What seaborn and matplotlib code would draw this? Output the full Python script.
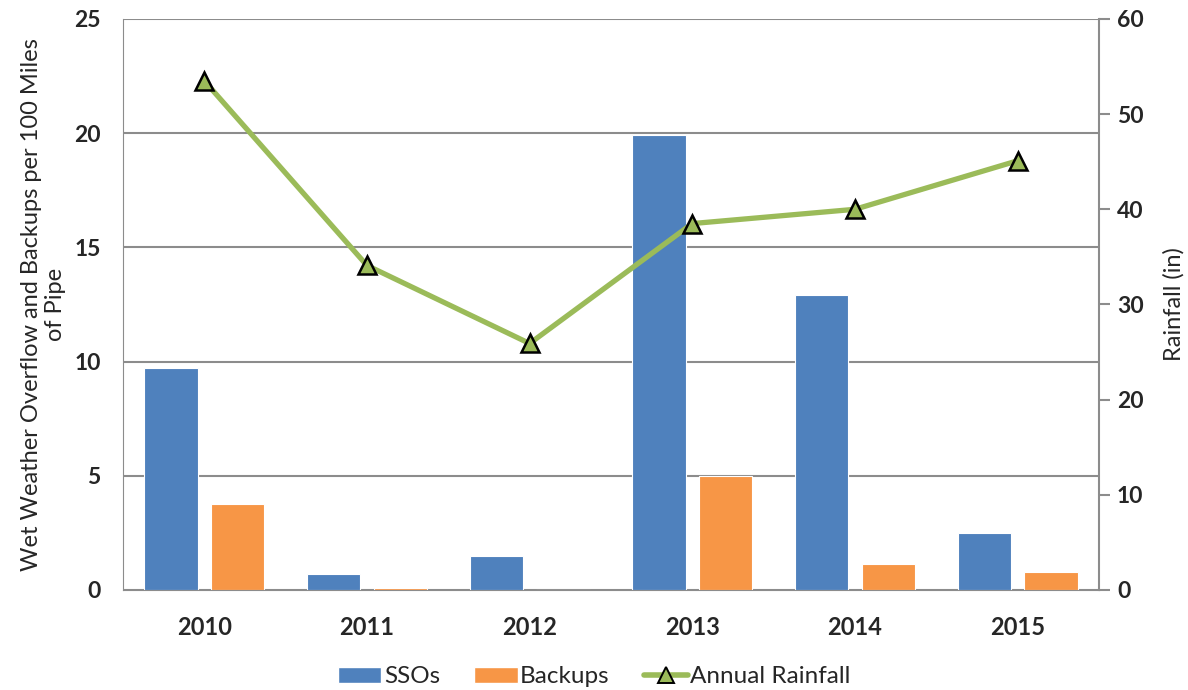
import pandas as pd
import matplotlib.pyplot as plt
import seaborn as sns
from matplotlib.patches import Patch
from matplotlib.lines import Line2D

# -------------------------------
# DATA
# -------------------------------
years = ["2010", "2011", "2012", "2013", "2014", "2015"]
ssos = [9.7, 0.7, 1.5, 19.9, 12.9, 2.5]
backups = [3.75, 0.1, 0.0, 5.0, 1.15, 0.8]
rainfall = [53.5, 34.1, 25.9, 38.5, 40.0, 45.1]

blue = "#4F81BD"
orange = "#F79646"
green = "#9BBB59"
grid_gray = "#8C8C8C"

df = pd.DataFrame({
    "year": years * 2,
    "value": ssos + backups,
    "series": ["SSOs"] * len(years) + ["Backups"] * len(years),
})

# -------------------------------
# STYLE
# -------------------------------
sns.set_style("white")
plt.rcParams["font.family"] = ["Lato", "DejaVu Sans"]

fig = plt.figure(figsize=(11.88, 6.9), dpi=100)
ax = fig.add_axes([0.1035, 0.145, 0.8215, 0.8275])

# -------------------------------
# BARS
# -------------------------------
sns.barplot(
    data=df, x="year", y="value", hue="series",
    palette={"SSOs": blue, "Backups": orange},
    width=0.82, gap=0.2, saturation=1, ax=ax,
    edgecolor="white", linewidth=0.8,
)
ax.legend_.remove()

ax.set_ylim(0, 25)
ax.set_yticks(range(0, 26, 5))
ax.set_xlim(-0.5, 5.5)
ax.yaxis.grid(True, color=grid_gray, linewidth=1.5)
ax.set_axisbelow(True)
for side in ["top", "right"]:
    ax.spines[side].set_visible(False)
ax.spines["left"].set_color(grid_gray)
ax.spines["bottom"].set_color(grid_gray)
ax.tick_params(axis="y", length=0, pad=16, labelsize=16.5)
ax.tick_params(axis="x", length=0, pad=19, labelsize=17)
for t in ax.get_xticklabels() + ax.get_yticklabels():
    t.set_fontweight("bold")
ax.set_xlabel("")
ax.set_ylabel("Wet Weather Overflow and Backups per 100 Miles\nof Pipe",
              fontsize=17, labelpad=6, linespacing=1.15)

# -------------------------------
# RAINFALL LINE (secondary axis)
# -------------------------------
ax2 = ax.twinx()
sns.pointplot(
    x=years, y=rainfall, ax=ax2, color=green, errorbar=None,
    marker="^", markersize=13, markeredgecolor="black",
    markeredgewidth=1.8, linewidth=3.8,
)
ax2.set_ylim(0, 60)
ax2.set_yticks(range(0, 61, 10))
ax2.set_xlim(-0.5, 5.5)
for side in ["top", "left", "bottom"]:
    ax2.spines[side].set_visible(False)
ax2.spines["right"].set_color(grid_gray)
ax2.spines["right"].set_linewidth(1.5)
ax2.tick_params(axis="y", direction="out", length=8, width=1.5,
                color=grid_gray, pad=5, labelsize=16.5)
for t in ax2.get_yticklabels():
    t.set_fontweight("bold")
ax2.set_ylabel("Rainfall (in)", fontsize=17, labelpad=14)

# -------------------------------
# LEGEND
# -------------------------------
handles = [
    Patch(facecolor=blue, label="SSOs"),
    Patch(facecolor=orange, label="Backups"),
    Line2D([0], [0], color=green, linewidth=4, marker="^", markersize=12,
           markeredgecolor="black", markerfacecolor=green,
           markeredgewidth=1.4, label="Annual Rainfall"),
]
fig.legend(handles=handles, loc="center", bbox_to_anchor=(0.5, 0.019),
           ncol=3, frameon=False, fontsize=17.5, handlelength=1.8,
           handleheight=0.6, columnspacing=1.4, handletextpad=0.1)

fig.savefig("out.png", dpi=100)
